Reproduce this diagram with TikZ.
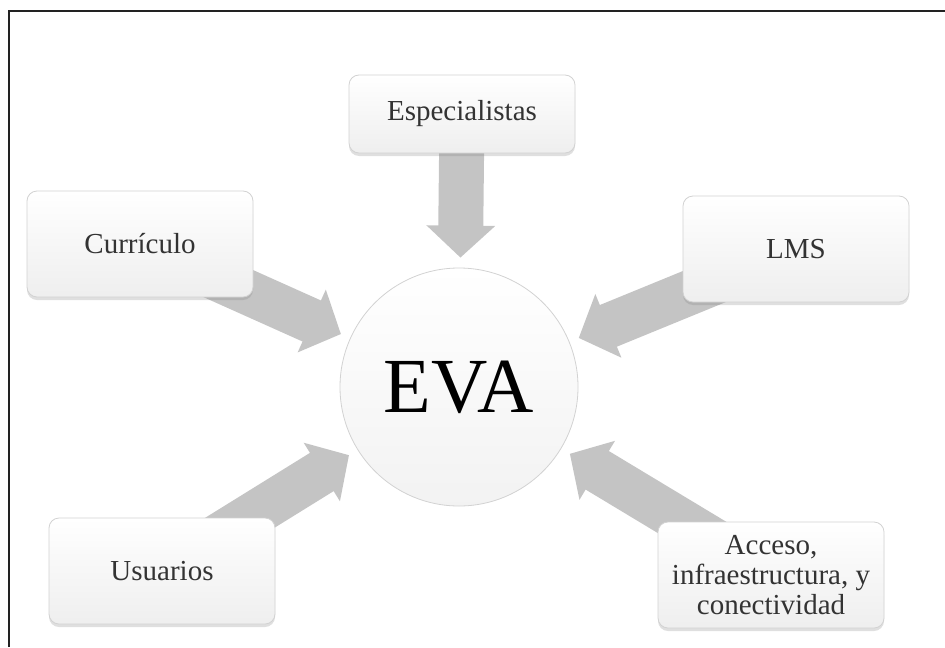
\documentclass[tikz,border=0pt]{standalone}
\usepackage{fontspec}
\setmainfont{Liberation Serif}
\usetikzlibrary{arrows.meta,shadows,backgrounds}
\definecolor{ArrowGray}{HTML}{C4C4C4}
\definecolor{EdgeGray}{HTML}{D2D2D2}
\definecolor{TextGray}{HTML}{333333}
\definecolor{FrameDark}{HTML}{222222}

\begin{document}
\begin{tikzpicture}[x=0.5pt, y=-0.5pt,
  box/.style={rectangle, rounded corners=5pt, draw=EdgeGray, top color=white, bottom color=gray!13,
    minimum width=113pt, minimum height=53pt, align=center, text=TextGray,
    font=\fontsize{14.5}{15}\selectfont,
    drop shadow={shadow xshift=0pt, shadow yshift=-1.5pt, opacity=0.25}},
  hub/.style={circle, draw=EdgeGray, top color=white, bottom color=gray!10, minimum size=119pt,
    inner sep=0pt, font=\fontsize{39}{39}\selectfont},
  flow/.style={line width=22.5pt, ArrowGray, -{Triangle[width=33.5pt,length=16pt]}, shorten >=5pt}]
  \useasboundingbox (0,0) rectangle (945,647);
  \draw[line width=1pt, FrameDark] (9,647) -- (9,11) -- (945,11);

  \node[hub] (eva) at (459,387) {EVA};
  \node[box, minimum height=39pt] (esp) at (462,114) {Especialistas};
  \node[box] (cur) at (140,244) {Currículo};
  \node[box] (lms) at (796,249) {LMS};
  \node[box] (usu) at (162,571) {Usuarios};
  \node[box] (acc) at (771,575) {Acceso,\\ infraestructura, y\\ conectividad};

  \begin{scope}[on background layer]
    \foreach \src in {esp,cur,lms,usu,acc}
      \draw[flow] (\src.center) -- (eva);
  \end{scope}
\end{tikzpicture}
\end{document}
